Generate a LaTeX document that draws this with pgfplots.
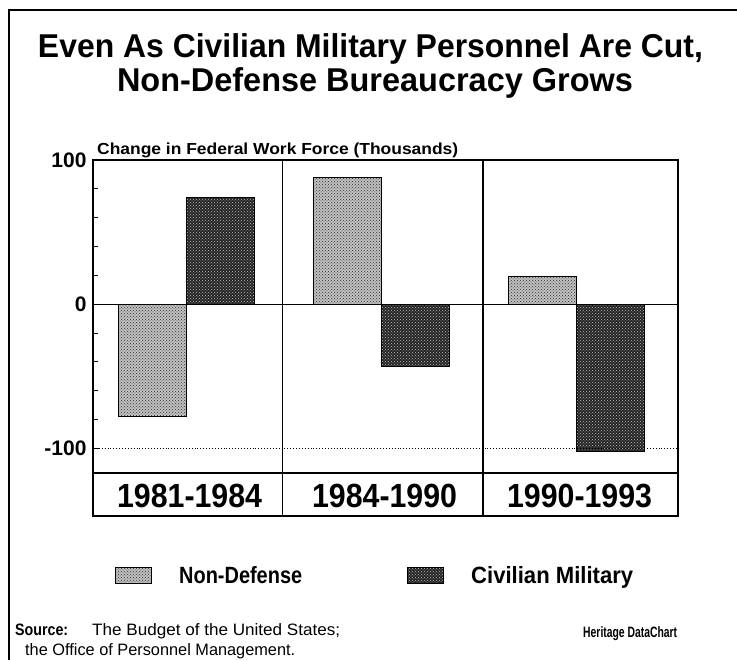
\documentclass[border=0pt]{standalone}
\usepackage{fontspec}
\setmainfont{Liberation Sans}
\usepackage{graphicx}
\usepackage{pgfplots}
\pgfplotsset{compat=1.18}
\usetikzlibrary{patterns}
\newcommand\fw[2]{\resizebox{#1}{\height}{#2}}
\begin{document}
\begin{tikzpicture}[x=1pt,y=1pt]
\path[use as bounding box] (0,0) rectangle (737,660);
\draw[line width=1.3pt] (9,0) -- (9,650) -- (737,650);
% title
\node[anchor=base, inner sep=0] at (370.5,602) {\fontsize{33}{36}\selectfont\bfseries\fw{665pt}{Even As Civilian Military Personnel Are Cut,}};
\node[anchor=base, inner sep=0] at (375,568) {\fontsize{33}{36}\selectfont\bfseries\fw{516pt}{Non-Defense Bureaucracy Grows}};
% y axis title
\node[anchor=base west, inner sep=0] at (97,505) {\fontsize{16}{16}\selectfont\bfseries\fw{361pt}{Change in Federal Work Force (Thousands)}};
\begin{axis}[
  at={(93pt,187pt)}, anchor=south west,
  scale only axis, width=585pt, height=313pt,
  xmin=-0.48, xmax=2.52, ymin=-117, ymax=100,
  ybar=0pt, bar width=0.35,
  xtick={0,1,2},
  xticklabels={\fw{145pt}{1981-1984},\fw{145pt}{1984-1990},\fw{145pt}{1990-1993}},
  x tick label style={font=\fontsize{33.5}{34}\selectfont\bfseries, anchor=center, yshift=-23pt, xshift=3pt},
  major x tick style={draw=none},
  ytick={-100,0,100}, yticklabels={-100,0,100},
  minor ytick={-80,-60,-40,-20,20,40,60,80},
  ytick pos=left, tick align=inside,
  major tick length=6pt, minor tick length=5pt,
  axis line style={line width=1.2pt},
  tick style={black, line width=1pt},
  y tick label style={font=\fontsize{21}{21}\selectfont\bfseries, xshift=-3pt},
  clip=false,
  legend columns=2,
  legend image code/.code={\draw[#1] (0pt,-8pt) rectangle (36pt,8pt);},
  legend style={draw=none, fill=none, at={(axis description cs:0.0376,-0.329)}, anchor=west,
    inner sep=0pt, font=\fontsize{23.5}{24}\selectfont\bfseries,
    nodes={inner sep=0pt},
    /tikz/every odd column/.style={column sep=27pt},
    /tikz/every even column/.style={column sep=105pt}},
  legend cell align=left,
]
\addplot[draw=black, line width=1pt, fill=gray!50, postaction={pattern=crosshatch dots, pattern color=black!80}]
  coordinates {(0,-78) (1,88) (2,19)};
\addplot[draw=black, line width=1pt, fill=black!85, postaction={pattern=crosshatch dots, pattern color=gray!55}]
  coordinates {(0,74) (1,-43) (2,-102)};
\legend{\fw{123pt}{Non-Defense},\fw{162pt}{Civilian Military}}
\draw[black, line width=1.2pt] (axis cs:-0.48,0) -- (axis cs:2.52,0);
\draw[black, dotted, line width=0.9pt] (axis cs:-0.48,-100) -- (axis cs:2.52,-100);
\draw[black, line width=1.2pt] (axis cs:0.49,-117) -- (axis cs:0.49,100);
\draw[black, line width=1.2pt] (axis cs:1.52,-117) -- (axis cs:1.52,100);
\end{axis}
% category box
\draw[line width=1.2pt] (93,144) rectangle (678,187);
\draw[line width=1.2pt] (282.2,144) -- (282.2,187);
\draw[line width=1.2pt] (483,144) -- (483,187);
% source
\node[anchor=base west, inner sep=0] at (15,24) {\fontsize{16.5}{17}\selectfont\bfseries\fw{53pt}{Source:}};
\node[anchor=base west, inner sep=0] at (92,24) {\fontsize{16.5}{17}\selectfont\fw{248pt}{The Budget of the United States;}};
\node[anchor=base west, inner sep=0] at (25,4) {\fontsize{16.5}{17}\selectfont\fw{270pt}{the Office of Personnel Management.}};
\node[anchor=base west, inner sep=0] at (583,22) {\fontsize{15}{16}\selectfont\bfseries\fw{94pt}{Heritage DataChart}};
\end{tikzpicture}
\end{document}
